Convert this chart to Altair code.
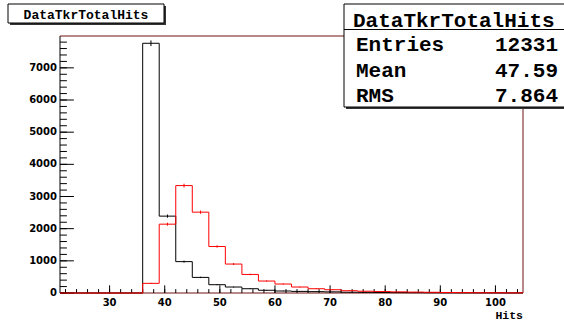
import math
import altair as alt
import pandas as pd

# ---------------- data ----------------
bin_width = 3
bin_low = [21, 24, 27, 30, 33, 36, 39, 42, 45, 48, 51, 54, 57, 60, 63, 66,
           69, 72, 75, 78, 81, 84, 87, 90, 93, 96, 99, 102]
black_counts = [0, 0, 0, 0, 0, 7764, 2390, 975, 485, 258, 186, 133, 85, 62, 50,
                42, 35, 25, 20, 15, 12, 10, 8, 6, 5, 4, 3, 2]
red_counts = [0, 0, 0, 0, 0, 300, 2140, 3340, 2513, 1446, 900, 577, 372, 279,
              186, 133, 102, 71, 55, 45, 35, 28, 22, 16, 12, 9, 7, 5]

x_major = [30, 40, 50, 60, 70, 80, 90, 100]
x_minor = list(range(22, 105, 2))
y_major = [0, 1000, 2000, 3000, 4000, 5000, 6000, 7000]
y_minor = list(range(0, 8000, 200))

hist_title = "DataTkrTotalHits"
x_title = "Hits"
stats_names = ["Entries", "Mean", "RMS"]
stats_values = ["12331", "47.59", "7.864"]

X_DOMAIN = [21, 105]
Y_DOMAIN = [0, 7990]

W, H = 463, 257
FRAME = "#6e1212"

# ---------------- helpers ----------------
xs = alt.Scale(domain=X_DOMAIN, nice=False, zero=False)
ys = alt.Scale(domain=Y_DOMAIN, nice=False, zero=True)


def step_df(counts):
    edges = bin_low + [bin_low[-1] + bin_width]
    vals = counts + [counts[-1]]
    return pd.DataFrame({"edge": edges, "count": vals})


def err_df(counts):
    return pd.DataFrame({"center": [b + bin_width / 2 for b in bin_low], "count": counts})


one = pd.DataFrame({"a": [0]})

# frame lines
frame_left = alt.Chart(one).mark_rule(color="black", strokeWidth=1).encode(
    x=alt.value(0), y=alt.value(0), y2=alt.value(H))
frame_top = alt.Chart(one).mark_rule(color=FRAME, strokeWidth=1).encode(
    x=alt.value(0), x2=alt.value(W), y=alt.value(0))
frame_right = alt.Chart(one).mark_rule(color=FRAME, strokeWidth=1).encode(
    x=alt.value(W), y=alt.value(0), y2=alt.value(H))
frame_bottom = alt.Chart(one).mark_rule(color=FRAME, strokeWidth=1).encode(
    x=alt.value(0), x2=alt.value(W), y=alt.value(H))

# inside ticks
xt_major = alt.Chart(pd.DataFrame({"v": x_major})).mark_rule(color="black").encode(
    x=alt.X("v:Q", scale=xs, axis=None), y=alt.value(H), y2=alt.value(H - 7.7))
xt_minor = alt.Chart(pd.DataFrame({"v": x_minor})).mark_rule(color="black").encode(
    x=alt.X("v:Q", scale=xs, axis=None), y=alt.value(H), y2=alt.value(H - 3.9))
yt_major = alt.Chart(pd.DataFrame({"v": y_major})).mark_rule(color="black").encode(
    y=alt.Y("v:Q", scale=ys, axis=None), x=alt.value(0), x2=alt.value(13.9))
yt_minor = alt.Chart(pd.DataFrame({"v": y_minor})).mark_rule(color="black").encode(
    y=alt.Y("v:Q", scale=ys, axis=None), x=alt.value(0), x2=alt.value(6.9))

label_font = "DejaVu Sans"

# tick labels (positioned through the scales)
x_labels = alt.Chart(pd.DataFrame({"v": x_major})).mark_text(
    font=label_font, fontWeight="bold", fontSize=10, align="center",
    baseline="middle", color="black").encode(
    x=alt.X("v:Q", scale=xs, axis=None), y=alt.value(H + 9.5), text="v:Q")
y_labels = alt.Chart(pd.DataFrame({"v": y_major})).mark_text(
    font=label_font, fontWeight="bold", fontSize=10, align="right",
    baseline="middle", color="black").encode(
    y=alt.Y("v:Q", scale=ys, axis=None), x=alt.value(-3), text="v:Q")

black_line = alt.Chart(step_df(black_counts)).mark_line(
    interpolate="step-after", color="black", strokeWidth=1).encode(
    x=alt.X("edge:Q", scale=xs, axis=None),
    y=alt.Y("count:Q", scale=ys, axis=None),
)
red_line = alt.Chart(step_df(red_counts)).mark_line(
    interpolate="step-after", color="#ff0000", strokeWidth=1).encode(
    x=alt.X("edge:Q", scale=xs, axis=None),
    y=alt.Y("count:Q", scale=ys, axis=None),
)


def errbars(counts, color):
    return alt.Chart(err_df(counts)).transform_filter("datum.count > 0").transform_calculate(
        lo="datum.count - sqrt(datum.count)", hi="datum.count + sqrt(datum.count)"
    ).mark_rule(color=color, strokeWidth=1).encode(
        x=alt.X("center:Q", scale=xs, axis=None),
        y=alt.Y("lo:Q", scale=ys, axis=None),
        y2="hi:Q",
    )


black_err = errbars(black_counts, "black")
red_err = errbars(red_counts, "#ff0000")

# x title
xlab = alt.Chart(one).mark_text(text=x_title, font="Liberation Mono", fontWeight="bold",
                                fontSize=11.5, align="right", baseline="middle",
                                color="black").encode(
    x=alt.value(W), y=alt.value(279.5))

# title box (top-left)
tb_shadow = alt.Chart(one).mark_rect(color="#333333").encode(
    x=alt.value(-50), x2=alt.value(106), y=alt.value(-30), y2=alt.value(-11))
tb_box = alt.Chart(one).mark_rect(fill="white", stroke="black", strokeWidth=1).encode(
    x=alt.value(-52), x2=alt.value(104), y=alt.value(-32), y2=alt.value(-13))
tb_text = alt.Chart(one).mark_text(text=hist_title, font="Liberation Mono", fontWeight="bold",
                                   fontSize=13, align="center", baseline="middle",
                                   color="black").encode(
    x=alt.value(26), y=alt.value(-21))

# stats box (top-right)
sb_shadow = alt.Chart(one).mark_rect(color="#333333").encode(
    x=alt.value(286), x2=alt.value(512), y=alt.value(-30), y2=alt.value(73))
sb_box = alt.Chart(one).mark_rect(fill="white", stroke="black", strokeWidth=1).encode(
    x=alt.value(284), x2=alt.value(510), y=alt.value(-32), y2=alt.value(71))
sb_sep = alt.Chart(one).mark_rule(color="black", strokeWidth=1).encode(
    x=alt.value(284), x2=alt.value(510), y=alt.value(-6.5))
sb_head = alt.Chart(one).mark_text(text=hist_title, font="Liberation Mono", fontWeight="bold",
                                   fontSize=21, align="left", baseline="middle",
                                   color="black").encode(
    x=alt.value(293), y=alt.value(-15))

stats_layers = []
for i, (nm, vl) in enumerate(zip(stats_names, stats_values)):
    ypix = 9 + i * 25.7
    stats_layers.append(alt.Chart(one).mark_text(
        text=nm, font="Liberation Mono", fontWeight="bold", fontSize=21,
        align="left", baseline="middle", color="black").encode(
        x=alt.value(296), y=alt.value(ypix)))
    stats_layers.append(alt.Chart(one).mark_text(
        text=vl, font="Liberation Mono", fontWeight="bold", fontSize=21,
        align="right", baseline="middle", color="black").encode(
        x=alt.value(498), y=alt.value(ypix)))

chart = alt.layer(
    frame_left, frame_top, frame_right, frame_bottom,
    xt_major, xt_minor, yt_major, yt_minor, x_labels, y_labels,
    black_line, red_line, black_err, red_err, xlab,
    tb_shadow, tb_box, tb_text,
    sb_shadow, sb_box, sb_sep, sb_head, *stats_layers,
).properties(
    width=W, height=H,
    padding={"left": 60, "top": 36, "right": 41, "bottom": 29},
    autosize=alt.AutoSizeParams(type="none"),
    background="white",
).configure_view(stroke=None)

chart.save("out.html", embed_options={"renderer": "svg", "actions": False})
